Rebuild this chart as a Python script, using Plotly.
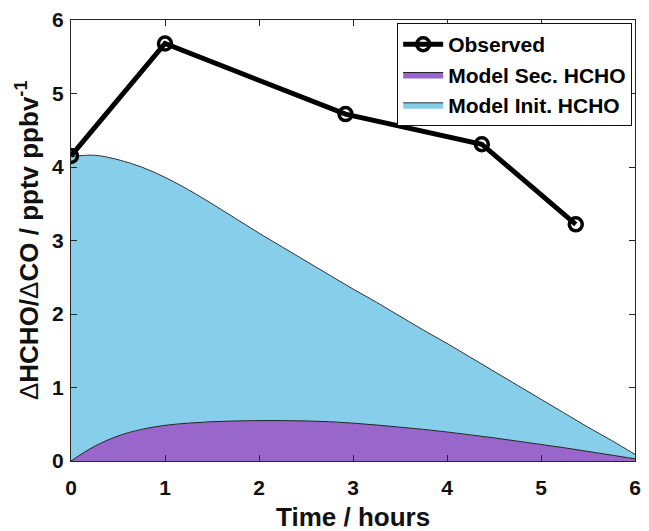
import plotly.graph_objects as go

# Observed
obs_t = [0.0, 1.0, 2.92, 4.37, 5.37]
obs_v = [4.15, 5.68, 4.72, 4.31, 3.22]

# Model (stacked areas)
model_t = [0, 0.25, 0.5, 0.75, 1.0, 1.25, 1.5, 1.75, 2.0, 2.25, 2.5, 2.75, 3.0,
           3.25, 3.5, 3.75, 4.0, 4.25, 4.5, 4.75, 5.0, 5.25, 5.5, 5.75, 6.0]
sec_v = [0.0, 0.20, 0.34, 0.43, 0.485, 0.515, 0.535, 0.545, 0.55, 0.55, 0.545, 0.535, 0.515,
         0.49, 0.46, 0.43, 0.395, 0.355, 0.315, 0.27, 0.225, 0.18, 0.13, 0.08, 0.03]
init_v = [4.14, 3.96, 3.76, 3.57, 3.375, 3.175, 2.965, 2.755, 2.55, 2.36, 2.175, 1.995, 1.825,
          1.67, 1.51, 1.35, 1.205, 1.055, 0.905, 0.76, 0.615, 0.47, 0.33, 0.20, 0.06]

tick_vals = [0, 1, 2, 3, 4, 5, 6]

FONT = "Liberation Sans"
AX = "#262626"

fig = go.Figure()
fig.add_trace(go.Scatter(
    x=model_t, y=sec_v, name="Model Sec. HCHO", stackgroup="m", mode="lines",
    line=dict(color="#222222", width=1, shape="spline", smoothing=1.0),
    fillcolor="rgb(153,102,204)", legendrank=2))
fig.add_trace(go.Scatter(
    x=model_t, y=init_v, name="Model Init. HCHO", stackgroup="m", mode="lines",
    line=dict(color="#333333", width=1, shape="spline", smoothing=1.0),
    fillcolor="rgb(135,206,235)", legendrank=3))
fig.add_trace(go.Scatter(
    x=obs_t, y=obs_v, name="Observed", mode="lines+markers",
    line=dict(color="black", width=5),
    marker=dict(symbol="circle-open", size=13, color="black", line=dict(width=3.5, color="black")),
    legendrank=1))

axis_common = dict(
    range=[0, 6], tickvals=tick_vals, ticks="inside", ticklen=6, tickwidth=1,
    tickcolor=AX, showline=True, linecolor=AX, linewidth=1, mirror="ticks",
    showgrid=False, zeroline=False,
    tickfont=dict(family=FONT, size=21, color="#111111", weight="bold"),
)

fig.update_layout(
    width=649, height=531,
    margin=dict(l=71, r=8, t=20, b=70),
    paper_bgcolor="white", plot_bgcolor="white",
    showlegend=True,
    legend=dict(
        x=0.995, y=0.993, xanchor="right", yanchor="top",
        bgcolor="white", bordercolor="#111111", borderwidth=1,
        font=dict(family=FONT, size=21, color="black", weight="bold"),
        traceorder="normal", tracegroupgap=0, itemwidth=40,
    ),
    xaxis=dict(**axis_common, ticklabelstandoff=8),
    yaxis=dict(**axis_common, ticklabelstandoff=2),
    annotations=[
        dict(text="<b>Time / hours</b>", xref="paper", yref="paper",
             x=0.5, y=-0.126, xanchor="center", yanchor="middle", showarrow=False,
             font=dict(family=FONT, size=26, color="#111111")),
        dict(text="Δ<b>HCHO/</b>Δ<b>CO / pptv ppbv<sup>-1</sup></b>", xref="paper", yref="paper",
             x=-0.077, y=0.5, xanchor="center", yanchor="middle", textangle=-90, showarrow=False,
             font=dict(family=FONT, size=26, color="#111111")),
    ],
)

fig.write_html("out.html")
